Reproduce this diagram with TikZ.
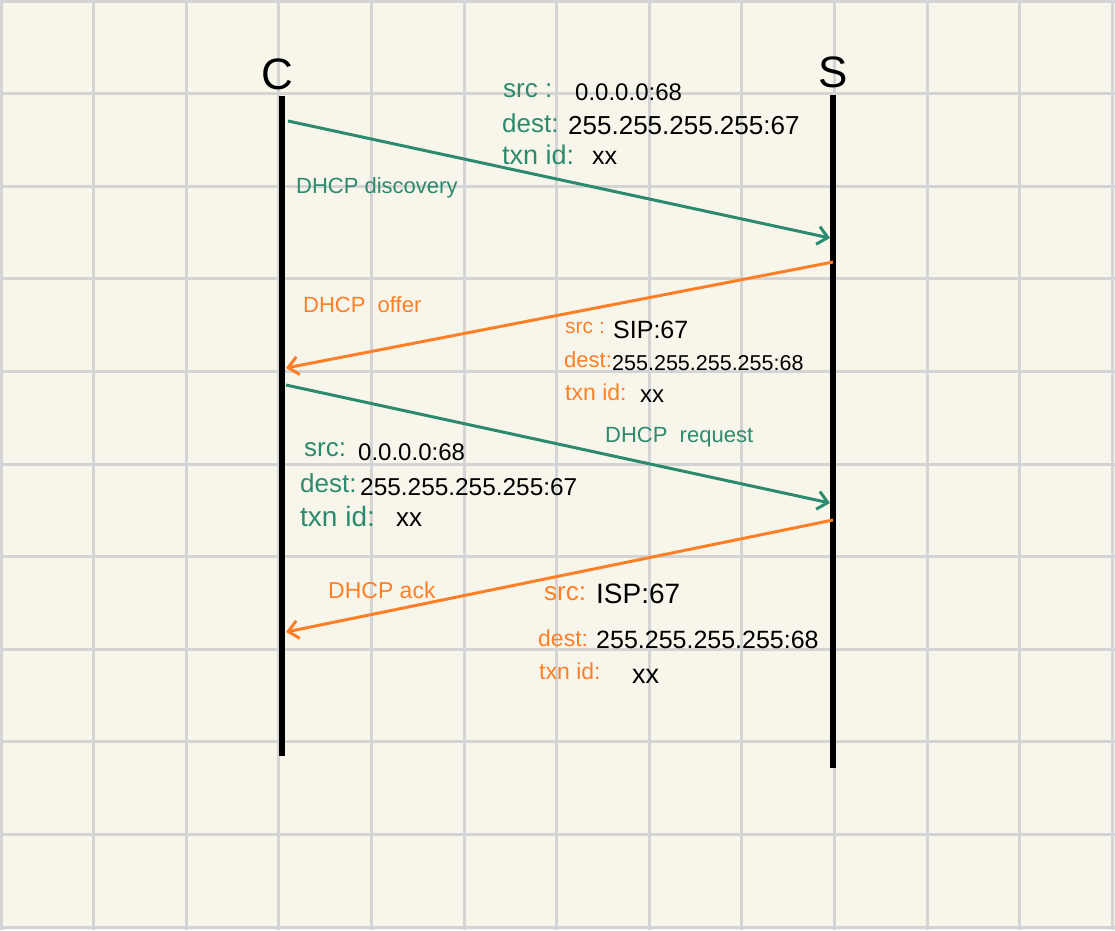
\documentclass[tikz,border=0pt]{standalone}
\usepackage{fontspec}
\setmainfont{Liberation Sans}
\usetikzlibrary{arrows.meta}
\definecolor{paper}{RGB}{248,246,234}
\definecolor{gridc}{RGB}{212,212,212}
\definecolor{tealc}{RGB}{44,138,110}
\definecolor{orangec}{RGB}{255,127,39}
\newcommand{\fsz}[1]{\fontsize{#1}{#1}\selectfont}
\tikzset{
  gridline/.style={draw=gridc, line width=3pt},
  lifeline/.style={draw=black, line width=6pt},
  msggreen/.style={draw=tealc, line width=3pt, -{Straight Barb[length=10pt,width=18pt,line width=3pt]}},
  msgorange/.style={draw=orangec, line width=3pt, -{Straight Barb[length=10pt,width=18pt,line width=3pt]}},
  actor/.style={font=\fsz{44}, inner sep=0pt},
  lbl/.style={font=\fsz{22}, inner sep=0pt, anchor=west},
  glbl/.style={lbl, text=tealc},
  olbl/.style={lbl, text=orangec},
  vlbl/.style={lbl, text=black},
}
\begin{document}
\begin{tikzpicture}[x=1pt,y=-1pt]
\fill[paper] (0,0) rectangle (1115,930);
\useasboundingbox (0,0) rectangle (1115,930);
\foreach \i in {0,...,12} \draw[gridline] ({1+92.6*\i},0) -- ({1+92.6*\i},930);
\foreach \i in {0,...,10} \draw[gridline] (0,{1+92.6*\i}) -- (1115,{1+92.6*\i});

% actors
\node[actor] (cl) at (277,74) {C};
\node[actor] (sl) at (833,72) {S};
\coordinate (ctop) at (282,96);
\coordinate (cbot) at (282,756);
\coordinate (stop) at (833,95);
\coordinate (sbot) at (833,768);
\draw[lifeline] (ctop) -- (cbot);
\draw[lifeline] (stop) -- (sbot);

% message end points
\coordinate (d1) at (288,121);
\coordinate (d2) at (830,238);
\coordinate (o1) at (833,262);
\coordinate (o2) at (286,368);
\coordinate (r1) at (286,385);
\coordinate (r2) at (830,503);
\coordinate (a1) at (833,520);
\coordinate (a2) at (286,632);

\draw[msggreen] (d1) -- (d2);
\draw[msgorange] (o1) -- (o2);
\draw[msggreen] (r1) -- (r2);
\draw[msgorange] (a1) -- (a2);

% discovery
\node[glbl] (ldisc) at (296,188) {DHCP discovery};
\node[glbl, font=\fsz{26}] (s1k) at (503,91) {src :};
\node[vlbl, font=\fsz{24}] (s1v) at (575,92) {0.0.0.0:68};
\node[glbl, font=\fsz{26}] (d1k) at (502,123) {dest:};
\node[vlbl, font=\fsz{26}] (d1v) at (568,126) {255.255.255.255:67};
\node[glbl, font=\fsz{27}] (t1k) at (502,155) {txn id:};
\node[vlbl, font=\fsz{25}] (t1v) at (592,158) {xx};

% offer
\node[olbl] (loffer) at (303,305) {DHCP\ \ offer};
\node[olbl, font=\fsz{21}] (s2k) at (565,328) {src :};
\node[vlbl, font=\fsz{25}] (s2v) at (613,330) {SIP:67};
\node[olbl, font=\fsz{22}] (d2k) at (564,360) {dest:};
\node[vlbl, font=\fsz{21.5}] (d2v) at (612,363) {255.255.255.255:68};
\node[olbl, font=\fsz{23}] (t2k) at (565,392) {txn id:};
\node[vlbl, font=\fsz{24}] (t2v) at (640,396) {xx};

% request
\node[glbl] (lreq) at (605,437) {DHCP\ \ request};
\node[glbl, font=\fsz{26}] (s3k) at (304,450) {src:};
\node[vlbl, font=\fsz{24}] (s3v) at (358,452) {0.0.0.0:68};
\node[glbl, font=\fsz{26}] (d3k) at (300,483) {dest:};
\node[vlbl, font=\fsz{24.4}] (d3v) at (360,487) {255.255.255.255:67};
\node[glbl, font=\fsz{28}] (t3k) at (300,516) {txn id:};
\node[vlbl, font=\fsz{26}] (t3v) at (396,520) {xx};

% ack
\node[olbl, font=\fsz{23}] (lack) at (328,590) {DHCP ack};
\node[olbl, font=\fsz{26}] (s4k) at (544,594) {src:};
\node[vlbl, font=\fsz{28}] (s4v) at (596,594) {ISP:67};
\node[olbl, font=\fsz{23}] (d4k) at (538,638) {dest:};
\node[vlbl, font=\fsz{25}] (d4v) at (596,640) {255.255.255.255:68};
\node[olbl, font=\fsz{23}] (t4k) at (539,671) {txn id:};
\node[vlbl, font=\fsz{27}] (t4v) at (632,676) {xx};
\end{tikzpicture}
\end{document}
